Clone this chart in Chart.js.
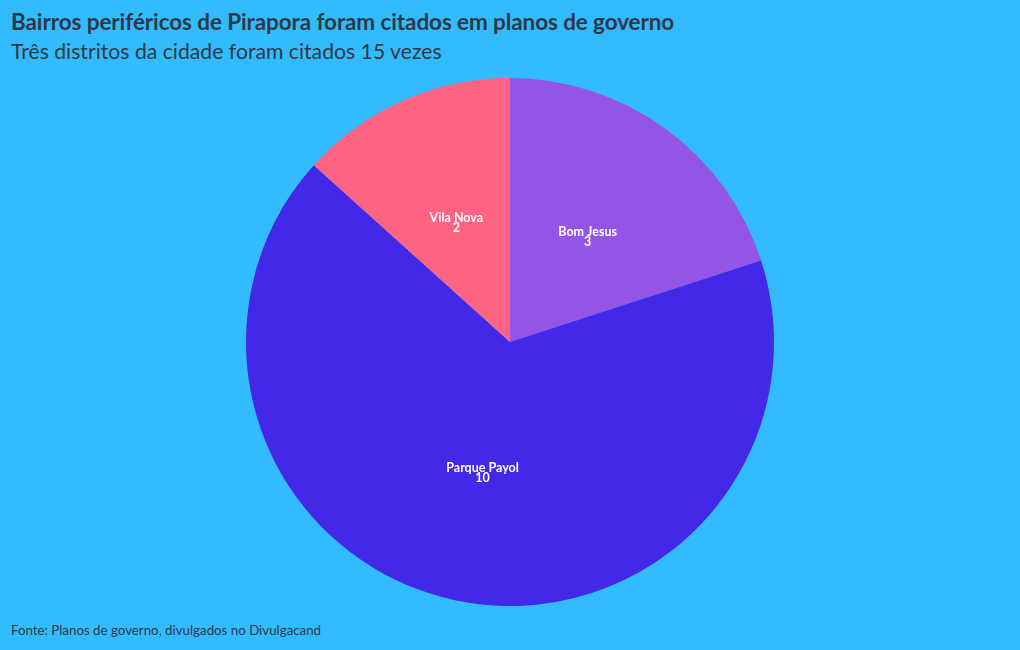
<!DOCTYPE html>
<html>
<head>
<meta charset="utf-8">
<script src="https://cdn.jsdelivr.net/npm/chart.js@4.4.0/dist/chart.umd.min.js"></script>
<style>
    html, body { margin: 0; padding: 0; }
    body {
        width: 1020px;
        height: 650px;
        background: #33bbff;
        position: relative;
        overflow: hidden;
        font-family: Lato, "Noto Sans", sans-serif;
        color: #2d3a45;
    }
    #title {
        position: absolute;
        left: 11px;
        top: 8px;
        font-size: 22.5px;
        font-weight: bold;
        letter-spacing: -0.1px;
    }
    #subtitle {
        position: absolute;
        left: 11px;
        top: 38px;
        font-size: 21.2px;
    }
    #footer {
        position: absolute;
        left: 11px;
        top: 622px;
        font-size: 13.3px;
    }
    #chart-wrap {
        position: absolute;
        left: 0;
        top: 78px;
        width: 1020px;
        height: 528px;
    }
</style>
</head>
<body>
<div id="title">Bairros periféricos de Pirapora foram citados em planos de governo</div>
<div id="subtitle">Três distritos da cidade foram citados 15 vezes</div>
<div id="chart-wrap"><canvas id="pie-chart"></canvas></div>
<div id="footer">Fonte: Planos de governo, divulgados no Divulgacand</div>

<script>
const bairros = ['Bom Jesus', 'Parque Payol', 'Vila Nova'];
const citacoes = [3, 10, 2];
const cores = ['#9455e6', '#4328e8', '#ff6384'];

document.addEventListener('DOMContentLoaded', function() {
    // rótulo + valor no centro de cada fatia
    const sliceLabels = {
        id: 'sliceLabels',
        afterDatasetsDraw(chart) {
            const ctx = chart.ctx;
            const meta = chart.getDatasetMeta(0);
            ctx.save();
            ctx.fillStyle = '#ffffff';
            ctx.font = 'bold 12.5px Lato, "Noto Sans", sans-serif';
            ctx.textAlign = 'center';
            ctx.textBaseline = 'middle';
            meta.data.forEach((arc, i) => {
                const pos = arc.tooltipPosition();
                ctx.fillText(chart.data.labels[i], pos.x, pos.y - 3);
                ctx.fillText(chart.data.datasets[0].data[i], pos.x, pos.y + 7);
            });
            ctx.restore();
        }
    };

    const ctx = document.getElementById('pie-chart').getContext('2d');
    new Chart(ctx, {
        type: 'pie',
        data: {
            labels: bairros,
            datasets: [{
                data: citacoes,
                backgroundColor: cores,
                borderWidth: 0
            }]
        },
        options: {
            responsive: true,
            maintainAspectRatio: false,
            animation: false,
            plugins: {
                legend: { display: false },
                tooltip: { enabled: false }
            }
        },
        plugins: [sliceLabels]
    });
});
</script>
</body>
</html>
